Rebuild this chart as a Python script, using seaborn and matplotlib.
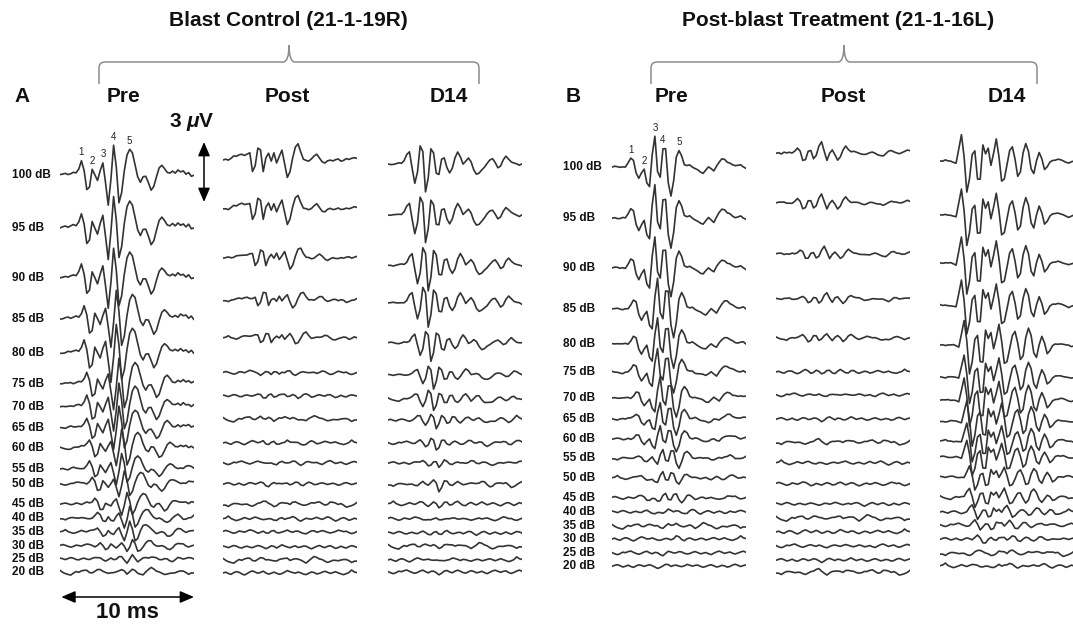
import numpy as np
import pandas as pd
import matplotlib
matplotlib.use("Agg")
import matplotlib.pyplot as plt
from matplotlib.path import Path
from matplotlib.patches import PathPatch
import seaborn as sns

# ---------------------------------------------------------------- data ----
levels = [100, 95, 90, 85, 80, 75, 70, 65, 60, 55, 50, 45, 40, 35, 30, 25, 20]
level_labels = [f"{lv} dB" for lv in levels]
conditions = ["Pre", "Post", "D14"]

# ABR waveforms at 100 dB SPL, in microvolts, sampled every 0.2 ms over 10 ms
wave_pre_a = [0.0, 0.05, 0.1, 0.05, 0.1, 0.15, 0.1, 0.3, 0.7, 0.2,
              -0.75, -0.6, 0.3, 0.0, -0.3, 0.2, 0.6, -0.4, -1.5, -0.2,
              1.5, 0.4, -1.4, -0.9, 0.2, 1.0, 1.28, 1.1, 0.5, -0.1,
              -0.35, -0.05, -0.05, -0.4, -0.8, -0.6, -0.1, 0.35, 0.5, 0.35,
              0.15, 0.1, 0.2, 0.1, 0.25, 0.15, 0.2, 0.05, 0.15, -0.05,
              0.0]
wave_post_a = [0.0, 0.03, 0.0, 0.1, 0.2, 0.17, 0.25, 0.3, 0.25, 0.3,
               0.35, -0.6, -0.3, 0.6, 0.5, -0.6, 0.1, 0.35, -0.05, 0.35,
               -0.15, 0.2, 0.5, -0.2, -0.9, -0.6, 0.1, 0.65, 0.8, 0.4,
               0.05, 0.0, -0.05, 0.05, 0.2, 0.3, 0.1, -0.1, -0.17, -0.05,
               0.0, -0.05, 0.0, 0.05, -0.05, 0.0, 0.08, 0.02, 0.05, 0.1,
               0.08]
wave_d14_a = [0.0, -0.02, 0.0, 0.02, 0.05, 0.03, 0.15, 0.45, 0.6, -0.2,
              -0.95, -0.4, 0.9, 0.6, -1.4, -0.7, 0.75, 0.55, -0.45, -0.5,
              0.25, 0.3, -0.2, -0.45, -0.2, 0.3, 0.58, 0.35, 0.0, 0.15,
              0.3, 0.1, -0.3, -0.5, -0.45, -0.3, -0.15, 0.05, 0.2, 0.25,
              0.05, -0.2, -0.1, 0.2, 0.38, 0.25, 0.12, 0.05, 0.0, -0.08,
              0.0]
wave_pre_b = [0.0, 0.03, 0.0, -0.02, 0.02, 0.0, 0.2, 0.45, 0.35, -0.3,
              -0.58, -0.3, -0.1, -0.8, -1.0, 0.6, 1.55, -0.2, -0.5, 0.9,
              0.9, -0.8, -1.45, -0.7, 0.5, 0.83, 0.55, 0.1, 0.05, 0.1,
              0.0, -0.08, -0.15, -0.25, -0.3, -0.15, 0.0, -0.1, -0.2, 0.05,
              0.25, 0.4, 0.38, 0.25, 0.2, 0.1, 0.05, 0.08, 0.12, 0.0,
              -0.08]
wave_post_b = [0.0, 0.03, -0.02, 0.05, 0.0, 0.03, 0.0, 0.1, 0.25, 0.1,
               -0.35, -0.3, 0.1, 0.12, -0.3, -0.15, 0.3, 0.55, 0.1, -0.33,
               0.0, 0.15, -0.1, -0.37, -0.2, 0.15, 0.33, 0.15, 0.05, 0.08,
               0.05, 0.0, -0.05, -0.08, -0.05, 0.0, 0.02, -0.02, -0.08, -0.12,
               -0.17, -0.05, 0.08, 0.13, 0.05, 0.02, 0.0, 0.05, 0.1, 0.15,
               0.1]
wave_d14_b = [0.0, -0.02, 0.02, 0.0, 0.0, -0.05, -0.1, 0.6, 1.3, 0.2,
              -1.55, -0.9, 0.3, 0.5, -0.9, -0.9, 0.8, 0.35, 0.65, -0.2,
              0.4, 1.1, 0.2, -1.0, -0.9, -0.2, 0.5, 0.7, 0.1, -0.75,
              -0.55, 0.4, 0.88, 0.5, -0.4, -0.65, 0.0, 0.43, 0.1, -0.45,
              -0.3, -0.05, 0.05, 0.05, 0.08, 0.05, 0.0, -0.05, -0.1, -0.05,
              0.0]

# relative response size at each level (100 dB = 1)
amp_pre_a = [1.0, 1.05, 1.0, 0.95, 0.95, 0.85, 0.8, 0.7, 0.6, 0.5, 0.45, 0.4, 0.35, 0.3, 0.2, 0.12, 0.06]
amp_post_a = [1.0, 0.85, 0.6, 0.5, 0.35, 0.15, 0.12, 0.1, 0.1, 0.08, 0.08, 0.05, 0.05, 0.05, 0.03, 0.03, 0.02]
amp_d14_a = [1.0, 1.0, 0.95, 0.85, 0.65, 0.5, 0.42, 0.3, 0.22, 0.18, 0.18, 0.08, 0.06, 0.05, 0.05, 0.04, 0.03]
amp_pre_b = [1.0, 1.05, 1.0, 1.0, 0.85, 0.75, 0.7, 0.55, 0.45, 0.35, 0.25, 0.15, 0.08, 0.06, 0.05, 0.04, 0.03]
amp_post_b = [1.0, 0.8, 0.7, 0.55, 0.45, 0.15, 0.1, 0.08, 0.06, 0.05, 0.05, 0.04, 0.04, 0.03, 0.03, 0.03, 0.02]
amp_d14_b = [1.0, 1.0, 1.0, 0.95, 0.95, 0.85, 0.85, 0.8, 0.7, 0.6, 0.45, 0.35, 0.25, 0.15, 0.1, 0.06, 0.04]

# latency increase relative to 100 dB, ms
lat_pre_a = [0, 0, 0, 0.2, 0.2, 0.4, 0.4, 0.4, 0.6, 0.6, 0.8, 1.0, 1.2, 1.2, 1.4, 1.4, 1.4]
lat_post_a = [0, 0, 0.2, 0.4, 0.6, 0.6, 0.8, 0.8, 1.0, 1.0, 1.0, 1.0, 1.0, 1.0, 1.0, 1.0, 1.0]
lat_d14_a = [0, 0, 0.2, 0.2, 0.4, 0.6, 0.6, 0.8, 0.8, 1.0, 1.0, 1.0, 1.0, 1.0, 1.0, 1.0, 1.0]
lat_pre_b = [0, 0, 0, 0.2, 0.2, 0.2, 0.4, 0.4, 0.4, 0.6, 0.6, 0.8, 1.0, 1.0, 1.0, 1.0, 1.0]
lat_post_b = [0, 0, 0.2, 0.4, 0.4, 0.6, 0.6, 0.6, 0.6, 0.6, 0.6, 0.6, 0.6, 0.6, 0.6, 0.6, 0.6]
lat_d14_b = [0, 0, 0, 0, 0.2, 0.2, 0.2, 0.4, 0.4, 0.4, 0.6, 0.6, 0.8, 1.0, 1.2, 1.2, 1.2]

# background EEG activity, microvolts, same 0.2 ms grid
floor_1 = [0.10, -0.02, -0.10, -0.15, -0.19, -0.07, 0.03, -0.02, 0.06, 0.10,
           0.10, -0.04, -0.07, 0.03, 0.13, 0.10, 0.03, 0.03, -0.04, -0.07,
           -0.04, 0.03, 0.06, 0.10, 0.10, -0.02, 0.03, 0.06, 0.06, 0.03,
           -0.07, -0.19, -0.07, 0.06, 0.20, 0.15, 0.06, 0.03, -0.07, -0.15,
           -0.10, -0.02, -0.02, -0.04, 0.00, 0.03, 0.03, -0.04, -0.15, -0.07,
           -0.07]
floor_2 = [0.00, 0.05, -0.03, -0.08, 0.02, 0.08, 0.04, -0.05, -0.12, -0.04,
           0.06, 0.12, 0.05, -0.02, 0.03, 0.10, 0.02, -0.06, -0.03, 0.04,
           0.00, -0.08, -0.04, 0.05, 0.14, 0.08, 0.02, -0.02, 0.06, 0.03,
           -0.05, -0.10, -0.03, 0.04, 0.02, -0.06, -0.02, 0.05, 0.10, 0.04,
           -0.03, 0.02, 0.08, 0.01, -0.05, -0.10, -0.04, 0.03, 0.18, 0.06,
           0.02]
floor_3 = [0.03, -0.05, -0.10, -0.04, 0.05, 0.02, 0.08, 0.12, 0.04, -0.03,
           -0.08, -0.03, 0.04, 0.09, 0.03, -0.02, 0.05, 0.02, -0.06, -0.12,
           -0.05, 0.03, 0.07, 0.02, -0.03, 0.04, 0.10, 0.05, -0.02, -0.06,
           0.00, 0.06, 0.02, -0.05, -0.02, 0.03, -0.04, -0.09, 0.00, 0.08,
           0.12, 0.05, -0.02, 0.03, 0.06, -0.03, -0.08, -0.02, 0.05, 0.10,
           0.04]
floor_4 = [-0.02, 0.04, 0.08, 0.02, -0.06, -0.02, 0.05, -0.03, -0.08, 0.00,
           0.07, 0.03, -0.04, 0.02, 0.09, 0.04, -0.05, -0.14, -0.06, 0.04,
           0.08, 0.03, -0.02, 0.05, 0.02, -0.04, -0.01, 0.06, 0.12, 0.03,
           -0.04, 0.02, 0.05, -0.02, -0.08, -0.03, 0.04, 0.08, 0.02, -0.05,
           -0.02, 0.04, 0.01, -0.06, -0.03, 0.05, 0.09, 0.03, -0.04, 0.02,
           0.06]

# wave I-V peak sample indices in the 100 dB pre-exposure recordings
peaks_pre_a = [8, 12, 16, 20, 26]
peaks_pre_b = [7, 12, 16, 19, 25]

# -------------------------------------------------------------- layout ----
W, H = 1073, 626
DT = 0.2                    # ms per sample
PX_PER_UV = 20.0            # vertical scale: 3 uV bar = 60 px
TRACE_W = 134               # pixel width of a 10 ms sweep

columns = [
    # panel, condition, left px, baselines px, waveform, amplitudes, latencies
    ("A", "Pre", 60, [175, 228, 278, 319, 353, 384, 407, 428, 448, 469, 484, 504, 518, 532, 546, 559, 572],
     wave_pre_a, amp_pre_a, lat_pre_a),
    ("A", "Post", 223, [160, 209, 258, 300, 338, 373, 396, 419, 443, 463, 484, 504, 519, 532, 547, 560, 573],
     wave_post_a, amp_post_a, lat_post_a),
    ("A", "D14", 388, [164, 215, 265, 303, 343, 375, 399, 420, 443, 463, 484, 504, 519, 533, 546, 560, 572],
     wave_d14_a, amp_d14_a, lat_d14_a),
    ("B", "Pre", 612, [167, 218, 268, 309, 344, 372, 398, 419, 439, 458, 478, 498, 512, 526, 539, 553, 566],
     wave_pre_b, amp_pre_b, lat_pre_b),
    ("B", "Post", 776, [153, 203, 254, 299, 338, 372, 395, 419, 442, 463, 484, 504, 518, 532, 546, 560, 572],
     wave_post_b, amp_post_b, lat_post_b),
    ("B", "D14", 940, [161, 215, 263, 305, 345, 377, 400, 421, 441, 457, 477, 497, 512, 525, 539, 553, 566],
     wave_d14_b, amp_d14_b, lat_d14_b),
]
floors = [np.array(f) for f in (floor_1, floor_2, floor_3, floor_4)]

TRACE_COLOR = "#333333"
BOLD = dict(fontweight="bold", color="#111111")

sns.set_theme(style="white")
plt.rcParams["font.family"] = ["Liberation Sans", "DejaVu Sans"]
plt.rcParams["mathtext.fontset"] = "custom"
plt.rcParams["mathtext.rm"] = "Liberation Sans:bold"
plt.rcParams["mathtext.it"] = "Liberation Sans:italic:bold"
plt.rcParams["mathtext.bf"] = "Liberation Sans:bold"

fig = plt.figure(figsize=(W / 100, H / 100), dpi=100)
fig.patch.set_facecolor("white")

# overlay in pixel units for headings, labels and braces
over = fig.add_axes([0, 0, 1, 1])
over.set_xlim(0, W)
over.set_ylim(H, 0)
over.axis("off")

t = np.arange(51) * DT


def delayed(wave, lag_ms):
    n = int(round(lag_ms / DT))
    w = np.asarray(wave, dtype=float)
    if n == 0:
        return w
    return np.concatenate([np.full(n, w[0]), w[:-n]])


col_axes = {}
traces = {}
for ci, (panel, cond, x0, bases, wave, amps, lats) in enumerate(columns):
    ax = fig.add_axes([x0 / W, 0, TRACE_W / W, 1])
    ax.set_xlim(0, 10)
    ax.set_ylim(-H / PX_PER_UV, 0)
    ax.axis("off")
    col_axes[(panel, cond)] = ax
    rows = []
    for k, (lv, a, lag, base) in enumerate(zip(levels, amps, lats, bases)):
        fl = floors[(k + ci) % 4]
        if ((k + ci) // 4) % 2:
            fl = fl[::-1]
        weight = 0.85 - 0.65 * min(a, 1.0)
        y = a * delayed(wave, lag) + weight * fl
        traces[(panel, cond, lv)] = y
        rows.append(pd.DataFrame({"t": t, "uv": y - base / PX_PER_UV, "level": lv}))
    df = pd.concat(rows, ignore_index=True)
    sns.lineplot(data=df, x="t", y="uv", units="level", estimator=None, sort=False,
                 color=TRACE_COLOR, linewidth=1.2, legend=False, ax=ax)
    for line in ax.lines:
        line.set_solid_joinstyle("round")
    ax.set_xlabel("")
    ax.set_ylabel("")

# wave numbers on the 100 dB pre-exposure traces
for panel, idxs in (("A", peaks_pre_a), ("B", peaks_pre_b)):
    ax = col_axes[(panel, "Pre")]
    base = columns[0 if panel == "A" else 3][3][0]
    y = traces[(panel, "Pre", 100)]
    for num, i in enumerate(idxs, start=1):
        ax.annotate(str(num), xy=(t[i], y[i] - base / PX_PER_UV), xytext=(0, 2.5),
                    textcoords="offset points", ha="center", va="bottom",
                    fontsize=7, color="#222222")

# level labels
for panel, lx, bases in (("A", 12, columns[0][3]), ("B", 563, columns[3][3])):
    for lab, b in zip(level_labels, bases):
        over.text(lx, b, lab, ha="left", va="center", fontsize=8.5, **BOLD)

# panel letters, condition headings, titles
over.text(22, 97, "A", ha="center", va="center", fontsize=15, **BOLD)
over.text(573, 97, "B", ha="center", va="center", fontsize=15, **BOLD)
for cx, name in ((123, "Pre"), (287, "Post"), (449, "D14"),
                 (672, "Pre"), (843, "Post"), (1007, "D14")):
    over.text(cx, 97, name, ha="center", va="center", fontsize=15, **BOLD)
over.text(288, 20, "Blast Control (21-1-19R)", ha="center", va="center", fontsize=15, **BOLD)
over.text(838, 20, "Post-blast Treatment (21-1-16L)", ha="center", va="center", fontsize=15, **BOLD)


def brace(x0, x1, xm, yh=62, yb=84, yt=45, r=6):
    verts = [(x0, yb), (x0, yh + r), (x0, yh), (x0 + r, yh), (xm - r, yh),
             (xm, yh), (xm, yt), (xm, yh), (xm + r, yh), (x1 - r, yh),
             (x1, yh), (x1, yh + r), (x1, yb)]
    codes = [Path.MOVETO, Path.LINETO, Path.CURVE3, Path.CURVE3, Path.LINETO,
             Path.CURVE3, Path.CURVE3, Path.CURVE3, Path.CURVE3, Path.LINETO,
             Path.CURVE3, Path.CURVE3, Path.LINETO]
    over.add_patch(PathPatch(Path(verts, codes), fill=False, edgecolor="#8c8c8c", lw=1.1))


brace(99, 479, 289)
brace(651, 1037, 844)

# scale bars: 3 uV and 10 ms
pre_a = col_axes[("A", "Pre")]
bar_mid = -172 / PX_PER_UV
bar_x = (204 - 60) / TRACE_W * 10
pre_a.annotate("", xy=(bar_x, bar_mid + 1.5), xytext=(bar_x, bar_mid - 1.5),
               arrowprops=dict(arrowstyle="<|-|>,head_length=0.7,head_width=0.3",
                               color="black", lw=1.1, shrinkA=0, shrinkB=0),
               annotation_clip=False)
bar_y = -597 / PX_PER_UV
pre_a.annotate("", xy=(10, bar_y), xytext=(0.1, bar_y),
               arrowprops=dict(arrowstyle="<|-|>,head_length=0.7,head_width=0.3",
                               color="black", lw=1.1, shrinkA=0, shrinkB=0),
               annotation_clip=False)
over.text(192, 122, r"3 $\mu$V", ha="center", va="center", fontsize=15, **BOLD)
over.text(127, 613, "10 ms", ha="center", va="center", fontsize=16, **BOLD)

fig.savefig("out.png", dpi=100, facecolor="white")
